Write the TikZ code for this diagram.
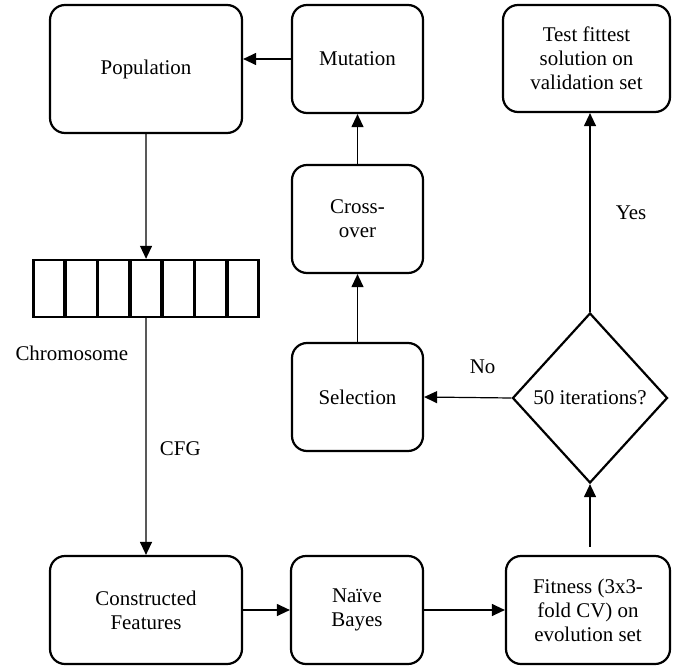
\documentclass[tikz,border=0pt]{standalone}
\usepackage{fontspec}
\setmainfont{Liberation Serif}
\usetikzlibrary{positioning, shapes.geometric, arrows.meta}

\begin{document}
\begin{tikzpicture}[x=1bp, y=-1bp,
    font=\fontsize{21}{24}\selectfont,
    stage/.style={draw, line width=2.2bp, rounded corners=15bp, align=center, inner sep=0pt},
    decision/.style={draw, diamond, line width=2.2bp, inner sep=0pt, minimum width=155bp, minimum height=170bp},
    cell/.style={draw, line width=2.4bp, minimum width=31bp, minimum height=57bp, inner sep=0pt},
    flow/.style={line width=1.2bp, -{Triangle[length=13bp, width=12bp]}}]
    \useasboundingbox (0,0) rectangle (677,666);
    % top row
    \node[stage, minimum width=192bp, minimum height=128bp] (pop) at (146,69) {Population};
    \node[stage, minimum width=131bp, minimum height=108bp] (mut) at (357.5,59) {Mutation};
    \node[stage, minimum width=167bp, minimum height=107bp] (test) at (586.5,58.5) {Test fittest\\solution on\\validation set};
    % middle
    \node[stage, minimum width=131bp, minimum height=108bp] (cross) at (357.5,219) {Cross-\\over};
    \node[stage, minimum width=131bp, minimum height=108bp] (sel) at (357.5,397) {Selection};
    \node[decision] (dia) at (590,398) {50 iterations?};
    % chromosome
    \foreach \i in {1,...,7}
        \node[cell] (c\i) at ({33+32.3*(\i-0.5)},288.5) {};
    \node[anchor=west] (chrom) at (12,353) {Chromosome};
    % bottom row
    \node[stage, minimum width=192bp, minimum height=108bp] (cons) at (146,610) {Constructed\\Features};
    \node[stage, minimum width=132bp, minimum height=108bp] (nb) at (357,610) {Naïve\\Bayes};
    \node[stage, minimum width=164bp, minimum height=108bp] (fit) at (588,610) {Fitness (3x3-\\fold CV) on\\evolution set};
    % connectors
    \draw[flow] (pop.south) -- (c4.north);
    \draw[flow] (c4.south) -- node[right=10bp, pos=0.55] (cfg) {CFG} (cons.north);
    \draw[flow] (cons.east) -- (nb.west);
    \draw[flow] (nb.east) -- (fit.west);
    \draw[flow, shorten <=8bp] (fit.north -| dia.south) -- (dia.south);
    \draw[flow] (dia.west) -- node[above=20bp, pos=0.33] (no) {No} (sel.east);
    \draw[flow] (dia.north) -- node[right=22bp, pos=0.5] (yes) {Yes} (dia.north |- test.south);
    \draw[flow] (sel.north) -- (cross.south);
    \draw[flow] (cross.north) -- (mut.south);
    \draw[flow] (mut.west) -- (mut.west -| pop.east);
\end{tikzpicture}
\end{document}
